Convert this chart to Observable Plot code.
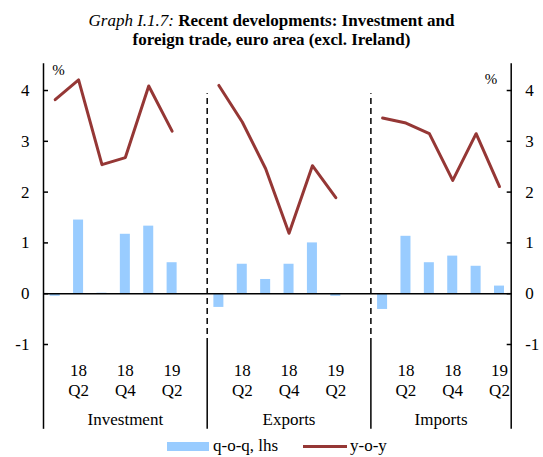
<!DOCTYPE html>
<html><head><meta charset="utf-8">
<script src="https://cdn.jsdelivr.net/npm/d3@7"></script>
<script src="https://cdn.jsdelivr.net/npm/@observablehq/plot@0.6"></script>
<style>
body{margin:0;background:#fff;width:543px;height:457px;overflow:hidden;font-family:"Liberation Serif","Times New Roman",serif;color:#000;}
#title{height:50px;box-sizing:border-box;padding-top:11px;text-align:center;font-size:17px;line-height:19px;font-weight:bold;}
#title i{font-weight:normal;}
#chart svg{display:block;}
#chart svg text{font-family:"Liberation Serif","Times New Roman",serif;font-variant:normal;}
#legend{position:relative;height:19px;font-size:17px;line-height:17px;}
#legend div{position:absolute;}
</style></head><body>
<div id="title"><i>Graph I.1.7:</i> Recent developments: Investment and<br>foreign trade, euro area (excl. Ireland)</div>
<div id="chart"></div>
<div id="legend"></div>
<script>
// ---- data ----
const groups = ["Investment", "Exports", "Imports"];
const quarters = ["18Q1", "18Q2", "18Q3", "18Q4", "19Q1", "19Q2"];
const tickLabels = ["", "18\nQ2", "", "18\nQ4", "", "19\nQ2"];
const qoqInvestment = [-0.05, 1.45, 0.01, 1.17, 1.33, 0.61];
const yoyInvestment = [3.82, 4.21, 2.54, 2.68, 4.09, 3.20];
const qoqExports = [-0.27, 0.58, 0.28, 0.58, 1.00, -0.05];
const yoyExports = [4.10, 3.38, 2.46, 1.19, 2.52, 1.89];
const qoqImports = [-0.31, 1.13, 0.61, 0.74, 0.54, 0.15];
const yoyImports = [3.46, 3.36, 3.15, 2.23, 3.15, 2.11];
const yTicks = [-1, 0, 1, 2, 3, 4];
const seriesLabels = ["q-o-q, lhs", "y-o-y"];
const unitLabel = "%";

// ---- build table ----
const qoq = [qoqInvestment, qoqExports, qoqImports];
const yoy = [yoyInvestment, yoyExports, yoyImports];
const slotsPerGroup = quarters.length + 1; // one blank slot after each group
const rows = [];
groups.forEach((g, gi) => quarters.forEach((q, qi) => rows.push({
  group: g, quarter: q, pos: gi * slotsPerGroup + qi, qoq: qoq[gi][qi], yoy: yoy[gi][qi], label: tickLabels[qi]
})));
const xMin = -0.5;
const xMax = (groups.length - 1) * slotsPerGroup + quarters.length - 0.5;
const bounds = groups.slice(0, -1).map((g, gi) => gi * slotsPerGroup + slotsPerGroup - 0.5);
const groupRows = groups.map((g, gi) => {
  const start = gi === 0 ? xMin : bounds[gi - 1];
  const end = gi < bounds.length ? bounds[gi] : xMax;
  return {group: g, center: (start + end) / 2};
});

// ---- style ----
const barColor = "#99ccff", lineColor = "#953735";
const barHalf = 0.214;
const yTop = 4.526, yBottomLine = -2.67, dashTop = 3.935;
const font = "Liberation Serif";
const fmt = d => String(d);

const plot = Plot.plot({
  width: 543,
  height: 388,
  marginLeft: 43,
  marginRight: 32.3,
  marginTop: 13.3,
  marginBottom: 94,
  style: {fontFamily: font, fontSize: "17px", background: "#fff", color: "#000"},
  x: {domain: [xMin, xMax], axis: null},
  y: {domain: [-1, yTop]},
  marks: [
    Plot.rect(rows, {x1: d => d.pos - barHalf, x2: d => d.pos + barHalf, y1: 0, y2: "qoq", fill: barColor}),
    Plot.ruleY([0], {stroke: "#000", strokeWidth: 1.5}),
    Plot.line(rows, {x: "pos", y: "yoy", z: "group", stroke: lineColor, strokeWidth: 3}),
    Plot.ruleX(bounds, {y1: -1, y2: dashTop, stroke: "#000", strokeWidth: 1.5, strokeDasharray: "6,4"}),
    Plot.ruleX([xMin, ...bounds, xMax], {y1: yBottomLine, y2: -1, stroke: "#000", strokeWidth: 1.5}),
    Plot.ruleX([xMin, xMax], {y1: -1, y2: yTop, stroke: "#000", strokeWidth: 1.5}),
    Plot.axisY({anchor: "left", ticks: yTicks, tickFormat: fmt, tickSize: -5, tickPadding: 19, label: null, fontSize: 17, fontFamily: font, fontVariant: "normal", stroke: "#000", strokeWidth: 1.5}),
    Plot.axisY({anchor: "right", ticks: yTicks, tickFormat: fmt, tickSize: -5, tickPadding: 19, label: null, fontSize: 17, fontFamily: font, fontVariant: "normal", stroke: "#000", strokeWidth: 1.5}),
    Plot.text(rows.filter(d => d.label), {x: "pos", text: "label", frameAnchor: "bottom", lineAnchor: "top", dy: 17.2, lineHeight: 20 / 17, fontSize: 17, fill: "#000"}),
    Plot.text(groupRows, {x: "center", text: "group", frameAnchor: "bottom", lineAnchor: "top", dy: 68.9, fontSize: 17, fill: "#000"}),
    Plot.text([unitLabel], {frameAnchor: "top-left", textAnchor: "start", lineAnchor: "middle", dx: 8.7, dy: 6.7, fontSize: 15, fill: "#000"}),
    Plot.text([unitLabel], {frameAnchor: "top-right", textAnchor: "end", lineAnchor: "middle", dx: -14, dy: 15.7, fontSize: 15, fill: "#000"})
  ]
});
document.getElementById("chart").appendChild(plot);

// ---- legend ----
const lg = document.getElementById("legend");
lg.innerHTML =
  `<div style="left:167px;top:4px;width:42px;height:8.5px;background:${barColor}"></div>` +
  `<div style="left:213px;top:-1px;">${seriesLabels[0]}</div>` +
  `<div style="left:303px;top:7.2px;width:44px;height:3px;background:${lineColor}"></div>` +
  `<div style="left:350px;top:-1px;">${seriesLabels[1]}</div>`;
</script>
</body></html>
